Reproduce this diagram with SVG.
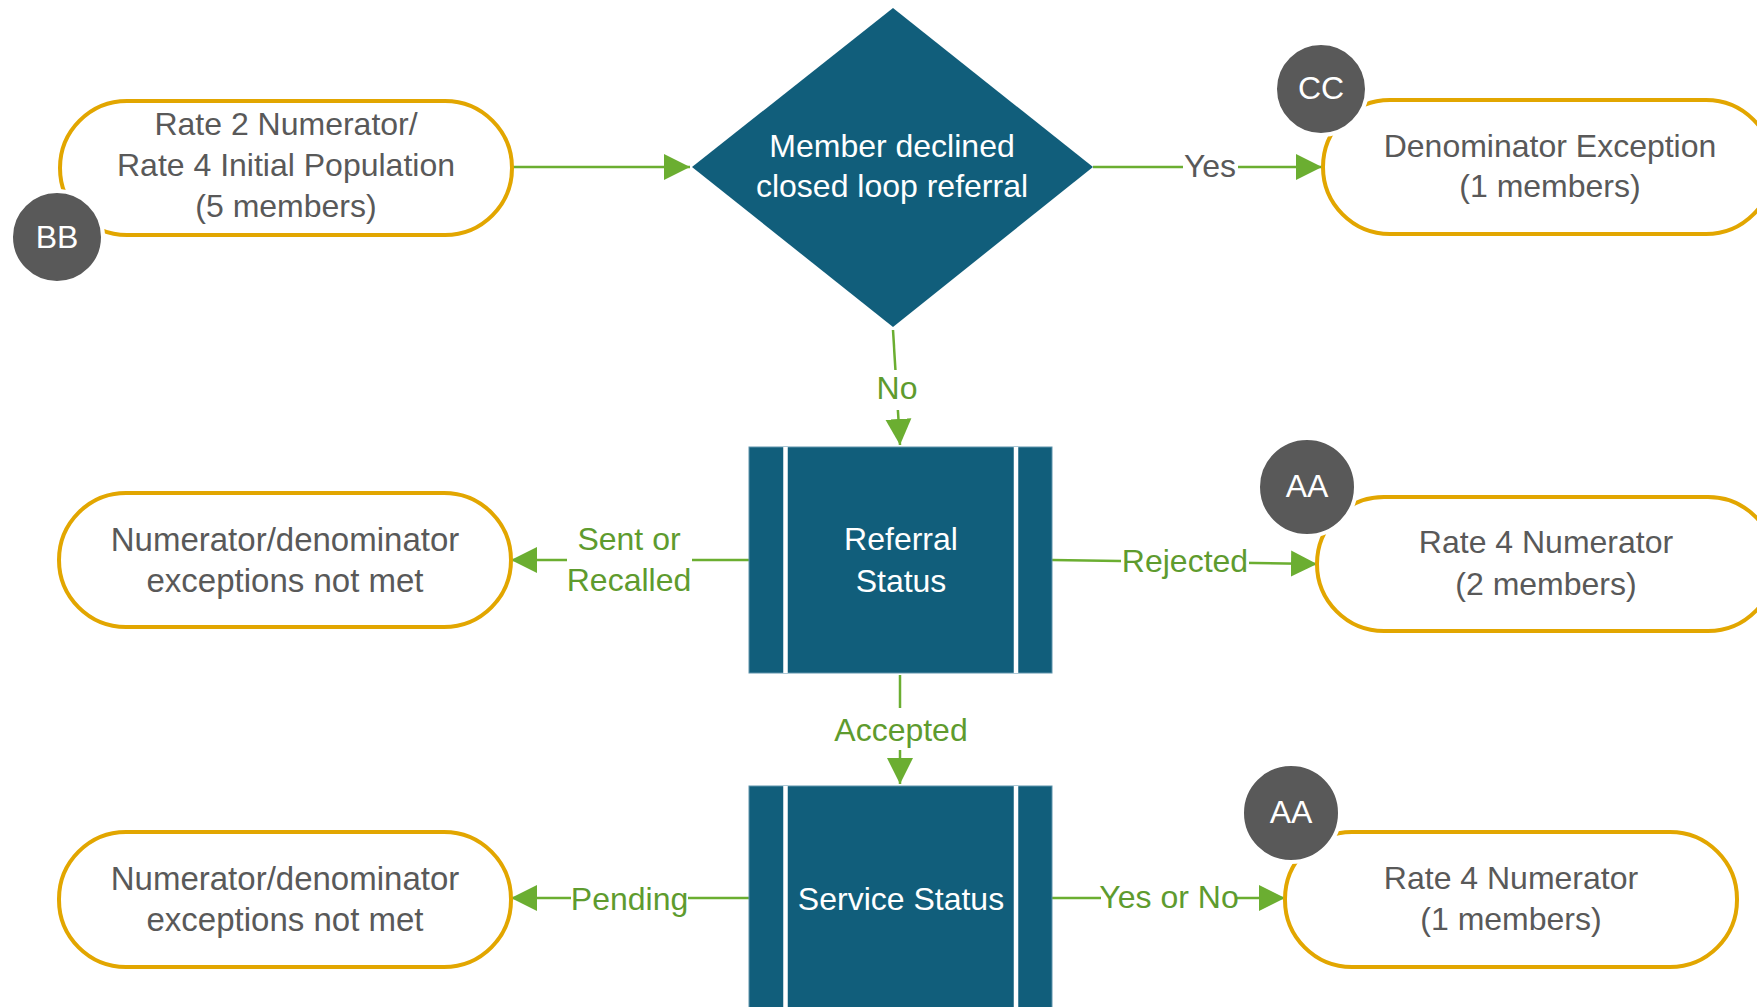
<svg xmlns="http://www.w3.org/2000/svg" width="1757" height="1007" viewBox="0 0 1757 1007">
<defs>
<style>
.pill{fill:#ffffff;stroke:#E2A600;stroke-width:4}
.blue{fill:#115E7B}
.proc{fill:#115E7B;stroke:#5F93AC;stroke-width:1}
.sep{stroke:#ffffff;stroke-width:4.5}
.badge{fill:#595959;stroke:#ffffff;stroke-width:4}
text{font-family:"Liberation Sans",Arial,sans-serif;font-size:32px;text-anchor:middle}
.nt{fill:#595959}
.wide{font-size:33px}
.wt{fill:#ffffff}
.lt{fill:#5E9B2E}
.conn{fill:none;stroke:#6BAE31;stroke-width:2.5}
.lbg{fill:#ffffff}
</style>
<marker id="arr" markerUnits="userSpaceOnUse" markerWidth="28" markerHeight="28" viewBox="0 0 28 28" refX="26" refY="14" orient="auto">
<path d="M0,1 L26,14 L0,27 Z" fill="#6BAE31"/>
</marker>
</defs>

<g id="connectors">
<path class="conn" d="M512,167 L690,167" marker-end="url(#arr)"/>
<path class="conn" d="M1093,167 L1322,167" marker-end="url(#arr)"/>
<path class="conn" d="M893,330 L900,445" marker-end="url(#arr)"/>
<path class="conn" d="M749,560 L511,560" marker-end="url(#arr)"/>
<path class="conn" d="M1052,560 L1317,564" marker-end="url(#arr)"/>
<path class="conn" d="M900,675 L900,784" marker-end="url(#arr)"/>
<path class="conn" d="M749,898 L511,898" marker-end="url(#arr)"/>
<path class="conn" d="M1052,898 L1285,898" marker-end="url(#arr)"/>
<g id="labels">
<rect class="lbg" x="1183" y="150" width="55" height="34"/>
<text class="nt" x="1210" y="177">Yes</text>
<rect class="lbg" x="874" y="370" width="46" height="40"/>
<text class="lt" x="897" y="399">No</text>
<rect class="lbg" x="567" y="524" width="125" height="76"/>
<text class="lt" x="629" y="550">Sent or</text>
<text class="lt" x="629" y="591">Recalled</text>
<rect class="lbg" x="1121" y="545" width="128" height="36"/>
<text class="lt" x="1185" y="572">Rejected</text>
<rect class="lbg" x="832" y="708" width="138" height="42"/>
<text class="lt" x="901" y="741">Accepted</text>
<rect class="lbg" x="571" y="882" width="117" height="36"/>
<text class="lt" x="629.5" y="910">Pending</text>
<rect class="lbg" x="1101" y="882" width="136" height="36"/>
<text class="lt" x="1169" y="908">Yes or No</text>
</g>
</g>

<g id="node-rate2">
<rect class="pill" x="60" y="101" width="452" height="134" rx="67"/>
<text class="nt" x="286" y="135">Rate 2 Numerator/</text>
<text class="nt" x="286" y="176">Rate 4 Initial Population</text>
<text class="nt" x="286" y="217">(5 members)</text>
</g>
<g id="badge-bb">
<circle class="badge" cx="57" cy="237" r="46"/>
<text class="wt" x="57" y="248">BB</text>
</g>

<g id="node-decision">
<polygon class="blue" points="893,8 1093,167 893,327 692,167"/>
<text class="wt" x="892" y="157">Member declined</text>
<text class="wt" x="892" y="197">closed loop referral</text>
</g>

<g id="node-denominator">
<rect class="pill" x="1323" y="100" width="450" height="134" rx="67"/>
<text class="nt" x="1550" y="157">Denominator Exception</text>
<text class="nt" x="1550" y="197">(1 members)</text>
</g>
<g id="badge-cc">
<circle class="badge" cx="1321" cy="89" r="46"/>
<text class="wt" x="1321" y="99">CC</text>
</g>

<g id="node-referral">
<rect class="proc" x="749" y="447" width="303" height="226"/>
<line class="sep" x1="785.5" y1="447" x2="785.5" y2="673"/>
<line class="sep" x1="1016" y1="447" x2="1016" y2="673"/>
<text class="wt" x="901" y="550">Referral</text>
<text class="wt" x="901" y="592">Status</text>
</g>

<g id="node-notmet1">
<rect class="pill" x="59" y="493" width="452" height="134" rx="67"/>
<text class="nt wide" x="285" y="551">Numerator/denominator</text>
<text class="nt wide" x="285" y="592">exceptions not met</text>
</g>

<g id="node-rate4-2">
<rect class="pill" x="1317" y="497" width="458" height="134" rx="67"/>
<text class="nt" x="1546" y="553">Rate 4 Numerator</text>
<text class="nt" x="1546" y="595">(2 members)</text>
</g>
<g id="badge-aa1">
<circle class="badge" cx="1307" cy="487" r="49"/>
<text class="wt" x="1307" y="497">AA</text>
</g>

<g id="node-service">
<rect class="proc" x="749" y="786" width="303" height="230"/>
<line class="sep" x1="785.5" y1="786" x2="785.5" y2="1010"/>
<line class="sep" x1="1016" y1="786" x2="1016" y2="1010"/>
<text class="wt" x="901" y="910">Service Status</text>
</g>

<g id="node-notmet2">
<rect class="pill" x="59" y="832" width="452" height="135" rx="67"/>
<text class="nt wide" x="285" y="890">Numerator/denominator</text>
<text class="nt wide" x="285" y="931">exceptions not met</text>
</g>

<g id="node-rate4-1">
<rect class="pill" x="1285" y="832" width="452" height="135" rx="67"/>
<text class="nt" x="1511" y="889">Rate 4 Numerator</text>
<text class="nt" x="1511" y="930">(1 members)</text>
</g>
<g id="badge-aa2">
<circle class="badge" cx="1291" cy="813" r="49"/>
<text class="wt" x="1291" y="823">AA</text>
</g>
</svg>
